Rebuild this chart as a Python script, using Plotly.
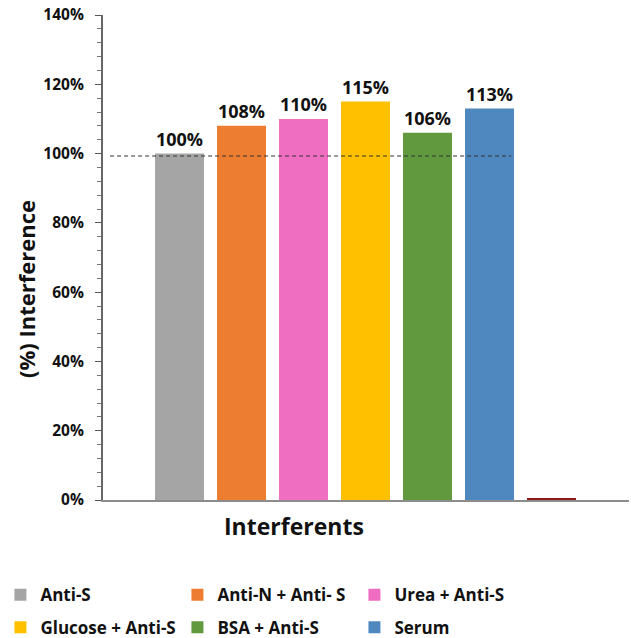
import plotly.graph_objects as go

# Interference study: signal of each sample relative to Anti-S alone
categories = ["Anti-S", "Anti-N + Anti- S", "Urea + Anti-S",
              "Glucose + Anti-S", "BSA + Anti-S", "Serum", "Blank"]
interference = [100, 108, 110, 115, 106, 113, 0.3]
colors = ["#A5A5A5", "#ED7D31", "#F06EC2", "#FFC000", "#619A3E", "#4F88BE", "#8B1A1A"]
legend_row = ["legend", "legend", "legend", "legend2", "legend2", "legend2", None]
value_labels = ["100%", "108%", "110%", "115%", "106%", "113%", ""]

y_ticks = [0, 20, 40, 60, 80, 100, 120, 140]
y_tick_text = [f"{v}%" for v in y_ticks]
reference_level = 99.3

FONT = "Open Sans"

fig = go.Figure()
for name, val, col, leg, lab in zip(categories, interference, colors,
                                     legend_row, value_labels):
    fig.add_trace(go.Bar(
        x=[name], y=[val], name=name,
        showlegend=leg is not None, legend=leg or "legend",
        marker=dict(color=col, line=dict(width=0)),
        width=0.79,
        text=[lab], textposition="outside", cliponaxis=False,
        textfont=dict(family=FONT, size=18, color="#111111", weight="bold"),
    ))

# dashed reference line near 100 %
fig.add_shape(type="line", xref="x", yref="y",
              x0=-1.12, x1=5.35, y0=reference_level, y1=reference_level,
              line=dict(color="#333333", width=1, dash="4px,3px"), layer="above")

legend_style = dict(
    orientation="h", xanchor="left", yanchor="top",
    entrywidth=132, entrywidthmode="pixels",
    font=dict(family=FONT, size=17, color="#111111", weight="bold"),
    traceorder="normal", itemclick=False, bgcolor="rgba(0,0,0,0)",
)

fig.update_layout(
    width=631, height=638,
    margin=dict(l=103, r=2, t=15, b=138, autoexpand=False),
    paper_bgcolor="white", plot_bgcolor="white",
    barmode="overlay",
    font=dict(family=FONT, color="#111111"),
    xaxis=dict(
        type="category", categoryorder="array", categoryarray=categories,
        range=[-1.234, 7.25], showticklabels=False, ticks="",
        showline=True, linecolor="#8C8C8C", linewidth=2,
        showgrid=False, zeroline=False, fixedrange=True,
    ),
    yaxis=dict(
        range=[0, 140], tickvals=y_ticks, ticktext=y_tick_text,
        ticks="outside", ticklen=6, tickwidth=1, tickcolor="#555555",
        minor=dict(dtick=4, ticks="outside", ticklen=4, tickcolor="#777777", tickwidth=1),
        showline=True, linecolor="#666666", linewidth=2,
        showgrid=False, zeroline=False, ticklabelstandoff=8,
        tickfont=dict(family=FONT, size=15.5, color="#111111", weight="bold"),
    ),
    legend=dict(x=-0.195, y=-0.1594, **legend_style),
    legend2=dict(x=-0.195, y=-0.2264, **legend_style),
    annotations=[
        dict(text="<b>Interferents</b>", xref="paper", yref="paper",
             x=(293.5 - 103) / 526, y=-(526 - 500) / 485,
             xanchor="center", yanchor="middle", showarrow=False,
             font=dict(family=FONT, size=23, color="#111111")),
        dict(text="<b>(%) Interference</b>", xref="paper", yref="paper",
             x=(26 - 103) / 526, y=(500 - 289) / 485, textangle=-90,
             xanchor="center", yanchor="middle", showarrow=False,
             font=dict(family=FONT, size=22, color="#111111")),
    ],
)

fig.write_html("out.html")
